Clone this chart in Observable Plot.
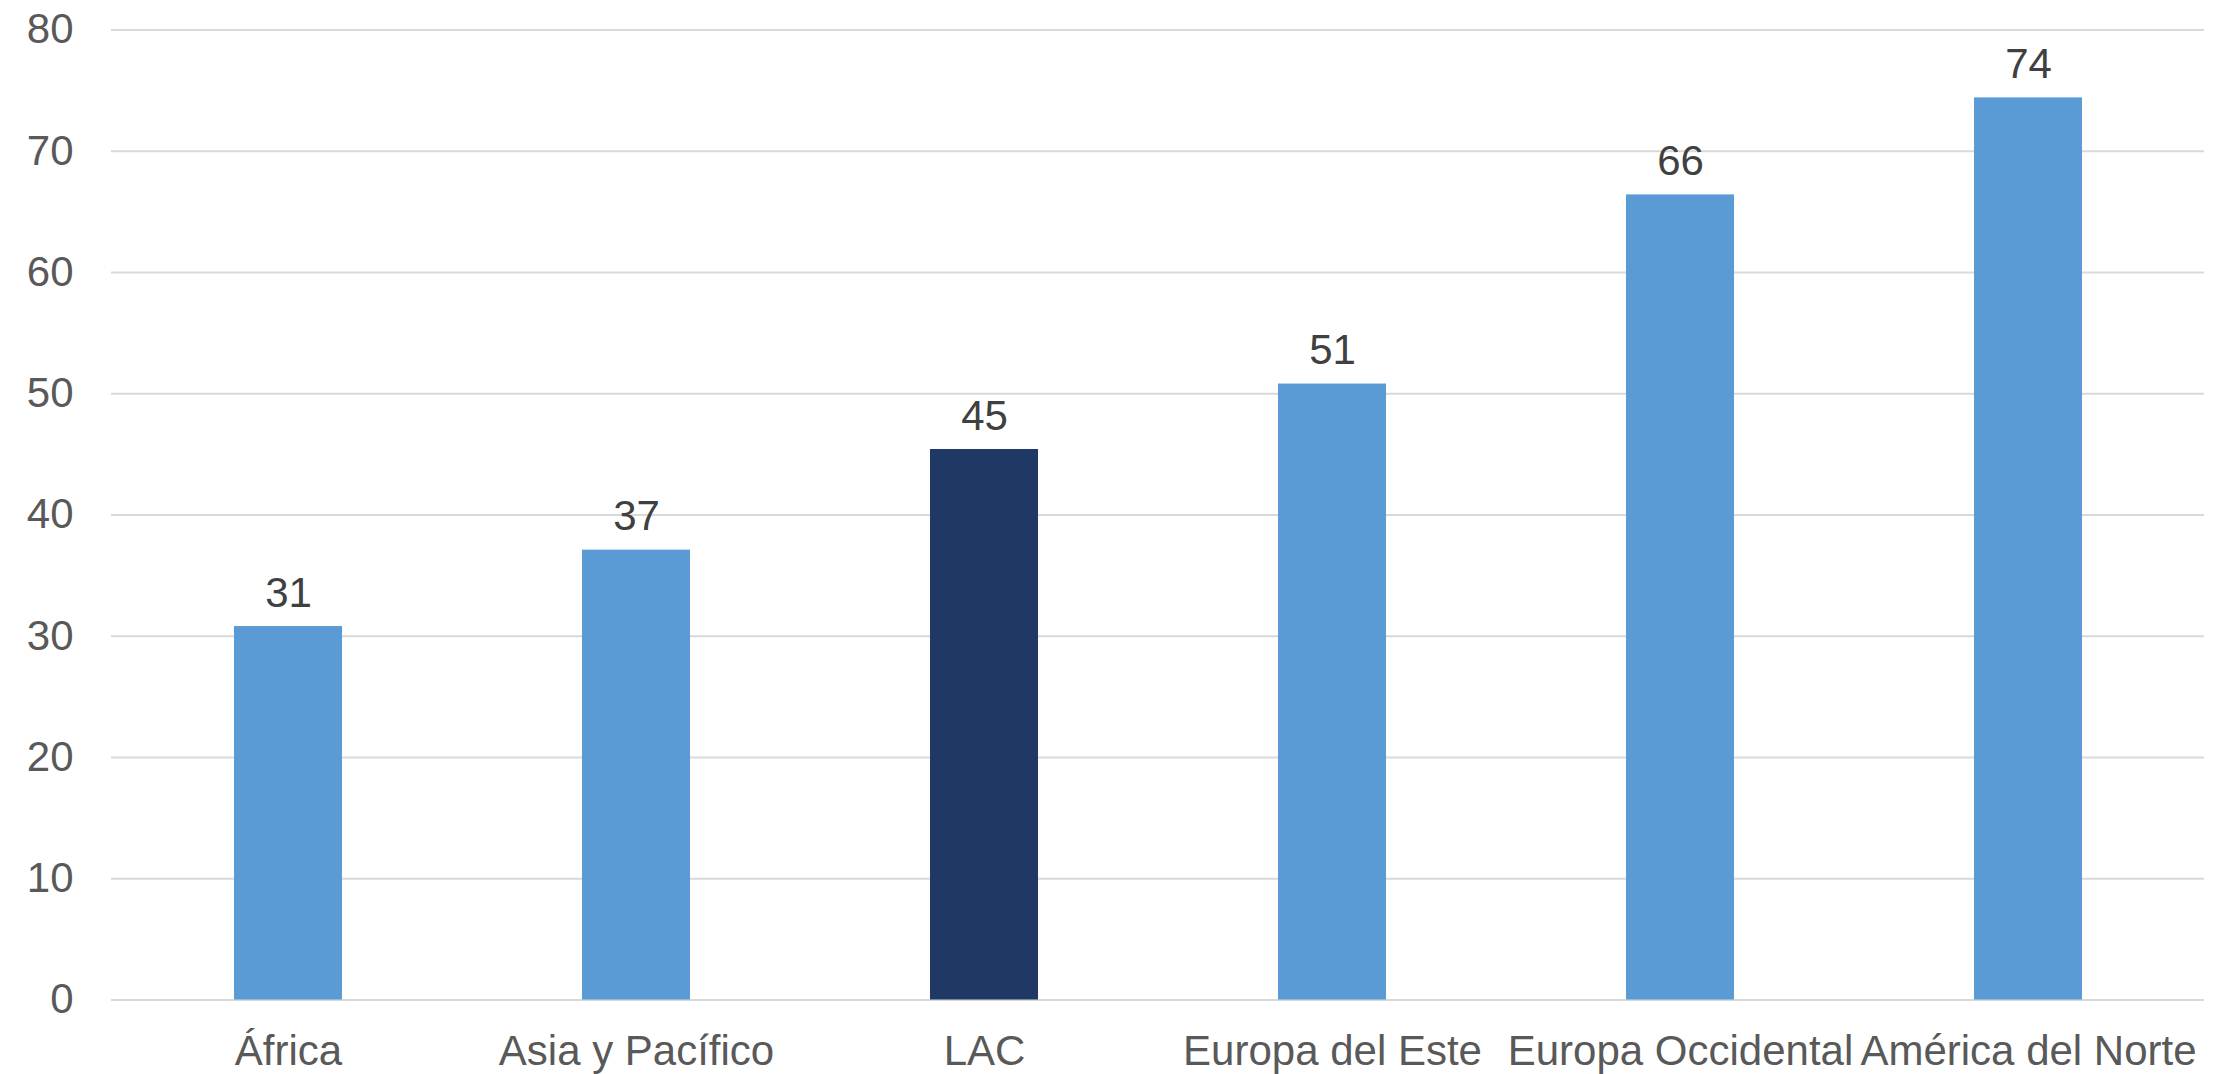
<!DOCTYPE html>
<html>
<head>
<meta charset="utf-8">
<script src="https://cdn.jsdelivr.net/npm/d3@7"></script>
<script src="https://cdn.jsdelivr.net/npm/@observablehq/plot@0.6"></script>
<style>
  html, body { margin: 0; padding: 0; background: #fff; }
  #chart { width: 2220px; height: 1074px; }
</style>
</head>
<body>
<div id="chart"></div>
<script>
const categories = ["África", "Asia y Pacífico", "LAC", "Europa del Este", "Europa Occidental", "América del Norte"];
const values = [30.8, 37.1, 45.4, 50.8, 66.4, 74.4];
const highlight = ["LAC"];
const yTicks = [0, 10, 20, 30, 40, 50, 60, 70, 80];

const data = categories.map((c, i) => ({category: c, value: values[i]}));

const chart = Plot.plot({
  width: 2220,
  height: 1074,
  marginLeft: 111,
  marginRight: 16,
  marginTop: 29.5,
  marginBottom: 74.5,
  style: {fontFamily: "'Liberation Sans', Arial, sans-serif", background: "#fff"},
  x: {domain: categories, paddingInner: 0.69, paddingOuter: 0.345, label: null},
  y: {domain: [0, 80], label: null},
  marks: [
    Plot.ruleY(yTicks, {stroke: "#d9d9d9", strokeWidth: 2}),
    Plot.barY(data, {
      x: "category", y: "value",
      fill: d => highlight.includes(d.category) ? "#203864" : "#5b9bd5"
    }),
    Plot.text(data, {
      x: "category", y: "value",
      text: d => d3.format(".0f")(d.value),
      lineAnchor: "bottom", dy: -20,
      fontSize: 42, fill: "#404040"
    }),
    Plot.axisY(yTicks, {tickSize: 0, tickPadding: 38, fontSize: 42, fill: "#595959", label: null}),
    Plot.axisX({tickSize: 0, tickPadding: 35, fontSize: 42, fill: "#595959", label: null})
  ]
});
document.getElementById("chart").appendChild(chart);
</script>
</body>
</html>
